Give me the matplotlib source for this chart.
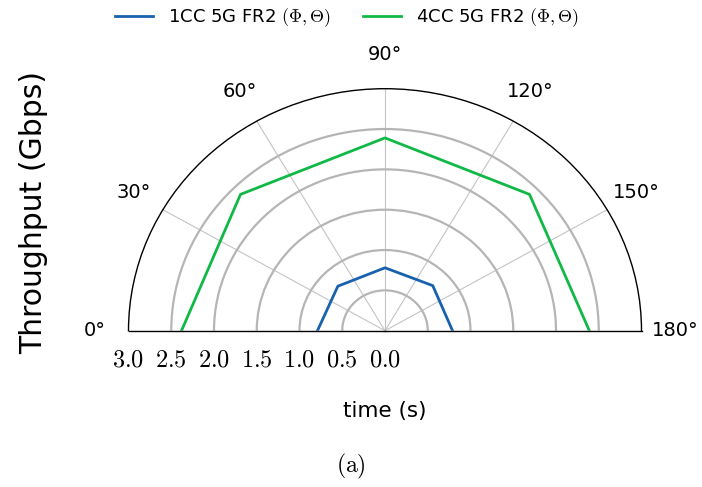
import numpy as np
import matplotlib.pyplot as plt

# data
angles_deg = [0, 45, 90, 135, 180]
tp_1cc = [0.79, 0.78, 0.78, 0.79, 0.79]
tp_4cc = [2.38, 2.39, 2.39, 2.39, 2.39]
r_ticks = [0.0, 0.5, 1.0, 1.5, 2.0, 2.5, 3.0]
theta_ticks = [0, 30, 60, 90, 120, 150, 180]

plt.rcParams['font.family'] = ['DejaVu Sans']
plt.rcParams['mathtext.fontset'] = 'cm'

fig = plt.figure(figsize=(7.02, 4.87), dpi=100)
W, H = 702, 487
cx, cy, R, Rv = 385, 330.7, 256.5, 242
# the half wedge sits in the middle half of the axes box
box_h = 2 * Rv
box_bottom = cy + 0.25 * box_h
ax = fig.add_axes([(cx - R) / W, (H - box_bottom) / H, 2 * R / W, box_h / H], projection='polar')
ax.set_thetamin(0)
ax.set_thetamax(180)
ax.set_theta_zero_location('W')
ax.set_theta_direction(-1)
ax.set_aspect('auto')
ax.set_rlim(0, 3.0)

th = np.deg2rad(angles_deg)
ax.plot(th, tp_1cc, color='#1761ad', lw=2, label=r'1CC 5G FR2 $(\Phi, \Theta)$')
ax.plot(th, tp_4cc, color='#10b946', lw=2, label=r'4CC 5G FR2 $(\Phi, \Theta)$')

ax.set_rticks(r_ticks[1:-1])
ax.set_yticklabels([])
ax.yaxis.grid(True, color='#b5b5b5', lw=1.6)
ax.set_thetagrids(theta_ticks, [f'{t}°' for t in theta_ticks], fontsize=14)
ax.xaxis.grid(True, color='#c4c4c4', lw=0.8)
ax.tick_params(axis='x', pad=14)
for s in ax.spines.values():
    s.set_color('black')
    s.set_linewidth(1.0)

# radial labels along the bottom edge
for r in r_ticks:
    ax.annotate(f'${r:.1f}$', xy=(0, r), xytext=(0, -12), textcoords='offset points',
                ha='center', va='top', fontsize=17.5, annotation_clip=False)

fig.text(34 / W, 1 - 212 / H, 'Throughput (Gbps)', rotation=90, ha='center', va='center', fontsize=21.5)
fig.text(385 / W, 1 - 411 / H, 'time (s)', ha='center', va='center', fontsize=15.5)
fig.text(351 / W, 1 - 466 / H, r'$\mathrm{(a)}$', ha='center', va='center', fontsize=17)

ax.legend(loc='upper center', bbox_to_anchor=(347 / W, 1.02), bbox_transform=fig.transFigure,
          ncol=2, frameon=False, fontsize=13, handlelength=2.1, columnspacing=1.8)

fig.savefig('out.png', dpi=100)
